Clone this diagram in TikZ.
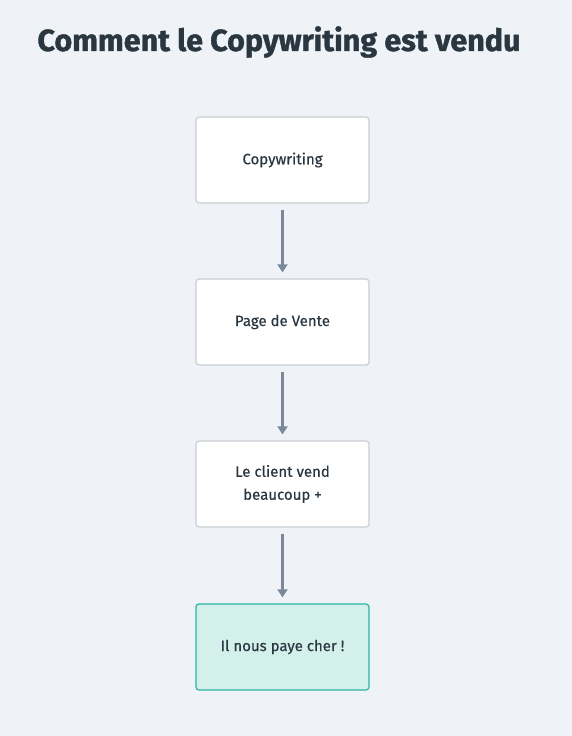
\documentclass[tikz,border=0pt]{standalone}
\usepackage{fontspec}
\setmainfont{Fira Sans}
\newfontfamily\titlefont[FakeBold=1.2]{Fira Sans Bold}
\newfontfamily\boxfont[FakeBold=0.4]{Fira Sans}
\usetikzlibrary{arrows.meta}
\definecolor{bg}{HTML}{EFF3F7}
\definecolor{ink}{HTML}{2A3640}
\definecolor{boxline}{HTML}{C9CED3}
\definecolor{arrowc}{HTML}{7A8899}
\definecolor{tealfill}{HTML}{D3F0EB}
\definecolor{tealline}{HTML}{2BB3A0}
\tikzset{
  stepbox/.style={draw=boxline, line width=1.2pt, fill=white, rounded corners=3pt,
    minimum width=173pt, minimum height=86pt, align=center, text=ink,
    font=\boxfont\fontsize{15}{23}\selectfont},
  finalbox/.style={stepbox, draw=tealline, fill=tealfill},
  flow/.style={draw=arrowc, line width=3pt, -{Triangle[length=8pt,width=10pt]}, shorten >=6pt, shorten <=6pt}
}
\begin{document}
\begin{tikzpicture}[x=1pt,y=-1pt]
\fill[bg] (0,0) rectangle (572,736);
\useasboundingbox (0,0) rectangle (572,736);
\node[text=ink, font=\titlefont\fontsize{30.5}{36}\selectfont] (title) at (279,42) {Comment le Copywriting est vendu};
\node[stepbox] (a) at (282.5,160) {Copywriting};
\node[stepbox] (b) at (282.5,322) {Page de Vente};
\node[stepbox] (c) at (282.5,484) {Le client vend\\beaucoup +};
\node[finalbox] (d) at (282.5,647) {Il nous paye cher !};
\draw[flow] (a) -- (b);
\draw[flow] (b) -- (c);
\draw[flow] (c) -- (d);
\end{tikzpicture}
\end{document}
